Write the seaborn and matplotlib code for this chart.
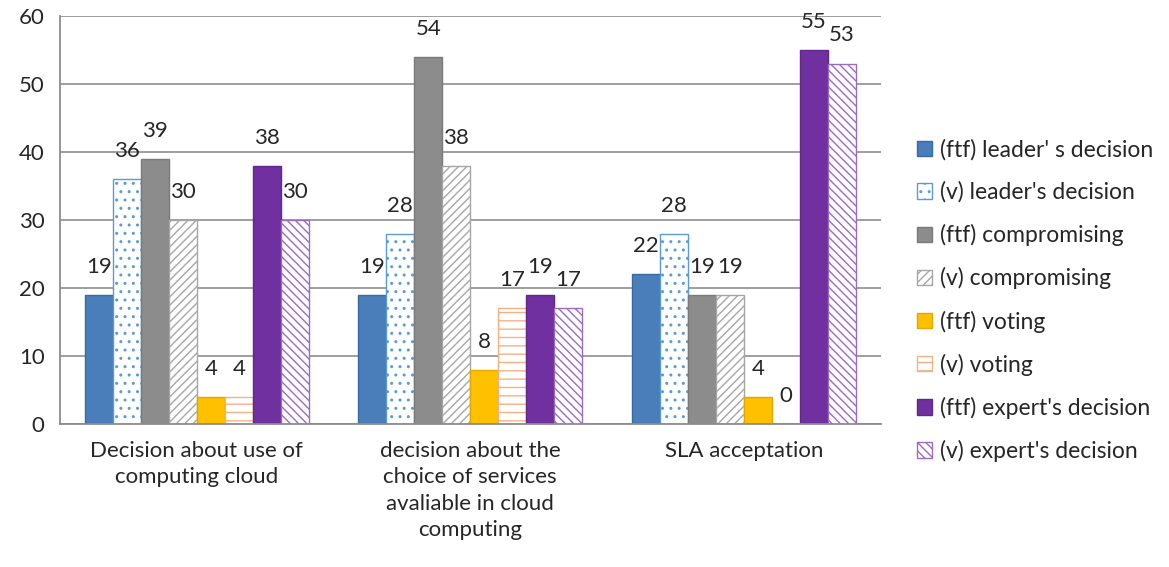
import seaborn as sns
import matplotlib.pyplot as plt
import pandas as pd

# categories and series
categories = ["Decision about use of\ncomputing cloud",
              "decision about the\nchoice of services\navaliable in cloud\ncomputing",
              "SLA acceptation"]
series = ["(ftf) leader' s decision", "(v) leader's decision",
          "(ftf) compromising", "(v) compromising",
          "(ftf) voting", "(v) voting",
          "(ftf) expert's decision", "(v) expert's decision"]
ftf_leader = [19, 19, 22]
v_leader = [36, 28, 28]
ftf_comp = [39, 54, 19]
v_comp = [30, 38, 19]
ftf_voting = [4, 8, 4]
v_voting = [4, 17, 0]
ftf_expert = [38, 19, 55]
v_expert = [30, 17, 53]

all_values = [ftf_leader, v_leader, ftf_comp, v_comp,
              ftf_voting, v_voting, ftf_expert, v_expert]
rows = []
for s, vals in zip(series, all_values):
    for c, v in zip(categories, vals):
        rows.append({"category": c, "series": s, "value": v})
df = pd.DataFrame(rows)

# (face, edge, hatch) per series
styles = [("#4A7EBB", "#3A6A9E", None),
          ("white", "#5B9BD5", ".."),
          ("#8C8C8C", "#7A7A7A", None),
          ("white", "#A6A6A6", "////"),
          ("#FFC000", "#E0A800", None),
          ("white", "#F4B183", "--"),
          ("#7030A0", "#60288A", None),
          ("white", "#9B6BC4", "\\\\\\\\")]

sns.set_style("white")
plt.rcParams['font.family'] = ['Lato', 'DejaVu Sans']

fig = plt.figure(figsize=(11.69, 5.67), dpi=100)
ax = fig.add_axes([0.0513, 0.252, 0.702, 0.72])

sns.barplot(data=df, x="category", y="value", hue="series", hue_order=series,
            order=categories, width=0.82, gap=0, ax=ax, legend=False,
            palette=[st[0] for st in styles], saturation=1)

for cont, (fc, ec, h) in zip(ax.containers, styles):
    for p in cont:
        p.set_facecolor(fc)
        p.set_edgecolor(ec)
        p.set_linewidth(1.0)
        if h:
            p.set_hatch(h)
    ax.bar_label(cont, padding=13, fontsize=16)

ax.set_ylim(0, 60)
ax.set_yticks(range(0, 61, 10))
ax.set_xlim(-0.5, 2.5)
ax.yaxis.grid(True, color="#969696", linewidth=1.3)
ax.set_axisbelow(True)
for side in ["top", "right"]:
    ax.spines[side].set_visible(False)
for side in ["left", "bottom"]:
    ax.spines[side].set_color("#8C8C8C")
    ax.spines[side].set_linewidth(1.3)

ax.set_xlabel("")
ax.set_ylabel("")
ax.tick_params(axis="x", which="major", length=0, labelsize=16, pad=12)
ax.set_xticks([-0.5, 0.5, 1.5, 2.5], minor=True)
ax.tick_params(axis="x", which="minor", length=7, color="#8C8C8C", width=1.3)
ax.tick_params(axis="y", length=5, color="#8C8C8C", width=1.3, labelsize=16, pad=6)
for lab in ax.get_xticklabels():
    lab.set_verticalalignment("top")
    lab.set_linespacing(1.4)

handles = []
for s, (fc, ec, h) in zip(series, styles):
    handles.append(plt.Rectangle((0, 0), 1, 1, facecolor=fc, edgecolor=ec,
                                 hatch=h, linewidth=1.0, label=s))
fig.legend(handles=handles, loc="center left", bbox_to_anchor=(0.767, 0.47),
           frameon=False, fontsize=16.5, labelspacing=0.92, handlelength=0.65,
           handleheight=0.65, handletextpad=0.35)

plt.savefig("out.png", dpi=100)
